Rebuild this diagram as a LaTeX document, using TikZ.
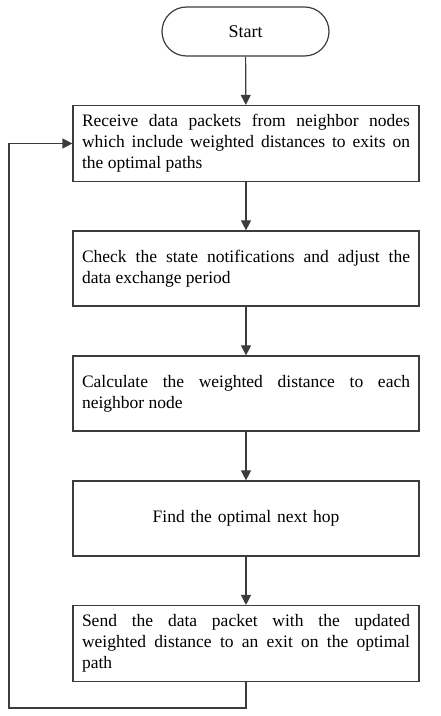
\documentclass[tikz,border=0pt]{standalone}
\usepackage{fontspec}
\setmainfont{Liberation Serif}
\usetikzlibrary{arrows.meta,shapes.misc,positioning}
\definecolor{linegray}{HTML}{3C3C3C}
\hyphenpenalty=10000
\exhyphenpenalty=10000
\tikzstyle{start}=[rounded rectangle,draw=linegray,line width=1.2pt,minimum width=167pt,minimum height=49pt,inner sep=0pt,font=\fontsize{18}{21}\selectfont]
\tikzstyle{box}=[rectangle,draw=linegray,line width=1.2pt,text width=328pt,inner sep=9pt,minimum height=75pt,align=justify,font=\fontsize{17.5}{21}\selectfont]
\tikzstyle{edge} = [draw=linegray,line width=1.2pt,-{Triangle[length=10pt,width=10pt]}]

\begin{document}
\begin{tikzpicture}[x=1pt,y=1pt]
\useasboundingbox (0,0) rectangle (440,716);
\node[start] (0) at (245.5,684.5) {Start};
\node[box] (1) at (246,572.5) {Receive data packets from neighbor nodes\linebreak
  which include weighted distances to exits on\linebreak the optimal paths};
\node[box] (2) at (246,447.5) {Check the state notifications and adjust the\linebreak data exchange period};
\node[box] (3) at (246,322.5) {Calculate the weighted distance to each\linebreak neighbor node};
\node[box,align=center] (4) at (246,197.5) {Find the optimal next hop};
\node[box] (5) at (246,72.5) {Send the data packet with the updated\linebreak
  weighted distance to an exit on the optimal\linebreak path};
\coordinate (c1) at (9,8);

 \path[edge] (0) -- (1);
 \path[edge] (1) -- (2);
 \path[edge] (2) -- (3);
 \path[edge] (3) -- (4);
 \path[edge] (4) -- (5);
%feedback loop
 \path[edge] (5.south) |- (c1) |- (1.west);
\end{tikzpicture}
\end{document}
